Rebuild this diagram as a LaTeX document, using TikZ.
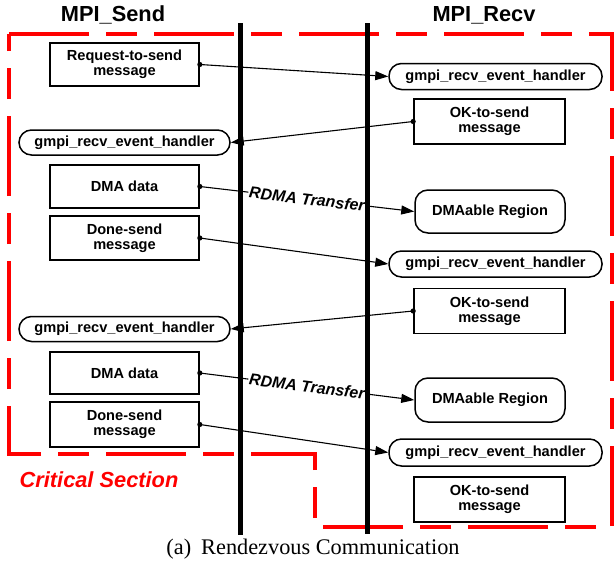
\documentclass[tikz,border=0pt]{standalone}
\usepackage{fontspec}
\setmainfont{Liberation Serif}
\setsansfont{Liberation Sans}
\usetikzlibrary{arrows.meta}
\begin{document}
\begin{tikzpicture}[x=1pt,y=-1pt,
  boxtext/.style={font=\sffamily\bfseries\fontsize{14.6}{15}\selectfont, align=center, inner sep=0pt},
  sqbox/.style={boxtext, draw, line width=1.7pt, rectangle, minimum width=149pt, minimum height=44pt},
  okbox/.style={sqbox, minimum width=151pt, minimum height=45pt},
  pill/.style={boxtext, draw, line width=1.5pt, rounded corners=12.5pt, minimum height=25pt},
  regbox/.style={boxtext, draw, line width=1.5pt, rounded corners=13pt, minimum width=150pt, minimum height=43pt},
  msg/.style={line width=1.1pt, -{Triangle[length=13pt,width=9pt]}},
  rdma/.style={font=\sffamily\bfseries\itshape\fontsize{16}{16}\selectfont, fill=white, inner sep=1pt, sloped},
  lifeline/.style={line width=4.5pt},
  crit/.style={draw=red, line width=3.6pt, dash pattern=on 80pt off 17pt on 31pt off 17pt}
]
\useasboundingbox (0,0) rectangle (614,562);

% critical section
\draw[crit] (9,34) -- (612,34) -- (612,527) -- (315,527) -- (315,454) -- (9,454) -- cycle;

% titles
\node[font=\sffamily\bfseries\fontsize{21.8}{23}\selectfont] (tsend) at (113,15) {MPI\_Send};
\node[font=\sffamily\bfseries\fontsize{21.8}{23}\selectfont] (trecv) at (484,15) {MPI\_Recv};

% left column
\node[sqbox, minimum height=43pt] (req) at (124.5,64.5) {Request-to-send\\message};
\node[pill, minimum width=211pt] (lp1) at (124.5,142.5) {gmpi\_recv\_event\_handler};
\node[sqbox, minimum height=43pt] (dma1) at (124.5,186.5) {DMA data};
\node[sqbox] (done1) at (124.5,238) {Done-send\\message};
\node[pill, minimum width=211pt] (lp2) at (124.5,329) {gmpi\_recv\_event\_handler};
\node[sqbox, minimum height=42pt] (dma2) at (124.5,373) {DMA data};
\node[sqbox, minimum height=45pt] (done2) at (124.5,424.5) {Done-send\\message};

% right column
\node[pill, minimum width=213pt, minimum height=26pt] (rp1) at (495.5,76.5) {gmpi\_recv\_event\_handler};
\node[okbox] (ok1) at (489.5,121.5) {OK-to-send\\message};
\node[regbox] (dr1) at (490,211.5) {DMAable Region};
\node[pill, minimum width=213pt, minimum height=26pt] (rp2) at (495.5,264) {gmpi\_recv\_event\_handler};
\node[okbox] (ok2) at (489.5,311) {OK-to-send\\message};
\node[regbox, minimum height=44pt] (dr2) at (490,400) {DMAable Region};
\node[pill, minimum width=213pt, minimum height=27pt] (rp3) at (495.5,452.5) {gmpi\_recv\_event\_handler};
\node[okbox] (ok3) at (489.5,499.5) {OK-to-send\\message};

% messages
\draw[msg] (req.east) -- (rp1.west);
\draw[msg] (ok1.west) -- (lp1.east);
\draw[msg] (dma1.east) -- node[rdma, pos=0.5] (lab1) {RDMA Transfer} (dr1.west);
\draw[msg] (done1.east) -- (rp2.west);
\draw[msg] (ok2.west) -- (lp2.east);
\draw[msg] (dma2.east) -- node[rdma, pos=0.5] (lab2) {RDMA Transfer} (dr2.west);
\draw[msg] (done2.east) -- (rp3.west);

% dots
\foreach \n in {req,dma1,done1,dma2,done2} \fill (\n.east) circle (2.6pt);
\foreach \n in {ok1,ok2} \fill (\n.west) circle (2.6pt);

% lifelines
\coordinate (sTop) at (240.5,23);
\coordinate (sBot) at (240.5,535);
\coordinate (rTop) at (367.5,23);
\coordinate (rBot) at (367.5,534);
\draw[lifeline] (sTop) -- (sBot);
\draw[lifeline] (rTop) -- (rBot);

% labels
\node[font=\sffamily\bfseries\itshape\fontsize{21.8}{23}\selectfont, text=red] (crit) at (99,480) {Critical Section};
\node[font=\rmfamily\fontsize{22.3}{24}\selectfont] (cap) at (313,549) {(a)\hspace{0.45em}Rendezvous Communication};
\end{tikzpicture}
\end{document}
